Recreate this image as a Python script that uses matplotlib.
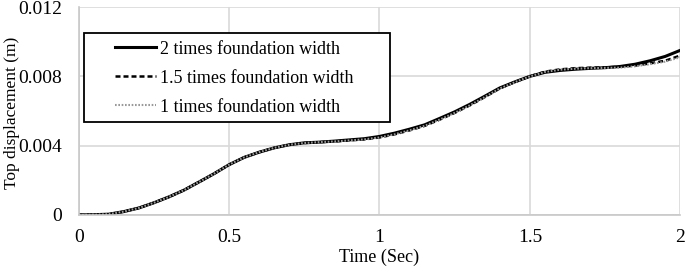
import matplotlib.pyplot as plt
from matplotlib.patches import Rectangle

time = [0.00, 0.05, 0.10, 0.15, 0.20, 0.25, 0.30, 0.35, 0.40, 0.45,
        0.50, 0.55, 0.60, 0.65, 0.70, 0.75, 0.80, 0.85, 0.90, 0.95,
        1.00, 1.05, 1.10, 1.15, 1.20, 1.25, 1.30, 1.35, 1.40, 1.45,
        1.50, 1.55, 1.60, 1.65, 1.70, 1.75, 1.80, 1.85, 1.90, 1.95, 2.00]

width_2 = [0.0, 0.00001, 0.00004, 0.00019, 0.0004, 0.0007, 0.00104, 0.00143, 0.0019, 0.00238,
           0.0029, 0.00332, 0.00362, 0.00387, 0.00405, 0.00416, 0.0042, 0.00426, 0.00433, 0.0044,
           0.00453, 0.00472, 0.00495, 0.0052, 0.00557, 0.00595, 0.00638, 0.00685, 0.00733, 0.00768,
           0.0080, 0.00823, 0.00834, 0.00841, 0.00846, 0.0085, 0.00857, 0.0087, 0.0089, 0.00915, 0.0095]

width_15 = [0.0, 0.00001, 0.00004, 0.00019, 0.0004, 0.0007, 0.00104, 0.00143, 0.0019, 0.00238,
            0.0029, 0.00332, 0.00362, 0.00387, 0.00405, 0.00415, 0.0042, 0.00424, 0.0043, 0.00436,
            0.00447, 0.00465, 0.00488, 0.00514, 0.0055, 0.00589, 0.00632, 0.0068, 0.0073, 0.00767,
            0.0080, 0.00827, 0.0084, 0.00847, 0.0085, 0.00852, 0.00855, 0.00862, 0.00875, 0.0089, 0.0092]

width_1 = [0.0, 0.00001, 0.00004, 0.00019, 0.0004, 0.0007, 0.00104, 0.00143, 0.0019, 0.00238,
           0.0029, 0.00332, 0.00362, 0.00387, 0.00405, 0.00415, 0.0042, 0.00424, 0.0043, 0.00436,
           0.00447, 0.00465, 0.00488, 0.00514, 0.0055, 0.00589, 0.00632, 0.0068, 0.0073, 0.00766,
           0.0080, 0.00825, 0.00838, 0.00844, 0.00847, 0.00849, 0.0085, 0.00858, 0.0087, 0.00885, 0.0091]

plt.rcParams['font.family'] = ['Liberation Serif', 'DejaVu Serif']

fig = plt.figure(figsize=(6.85, 2.72), dpi=100)
ax = fig.add_axes([0.115, 0.21, 0.878, 0.764])

ax.plot(time, width_2, color='black', linewidth=2.2, label='2 times foundation width')
ax.plot(time, width_15, color='black', linewidth=1.8, linestyle=(0, (2, 1.2)),
        label='1.5 times foundation width')
ax.plot(time, width_1, color='#999999', linewidth=1.5, linestyle=(0, (0.8, 0.8)),
        label='1 times foundation width')

ax.set_xlim(0, 2)
ax.set_ylim(0, 0.012)
ax.set_xticks([0, 0.5, 1, 1.5, 2])
ax.set_xticklabels(['0', '0.5', '1', '1.5', '2'])
ax.set_yticks([0, 0.004, 0.008, 0.012])
ax.set_yticklabels(['0', '0.004', '0.008', '0.012'])
ax.tick_params(axis='x', length=0, pad=10, labelsize=14)
ax.tick_params(axis='y', length=0, pad=12, labelsize=14)
ax.grid(True, color='#d9d9d9', linewidth=1.2)
ax.set_axisbelow(True)
for s in ['top', 'right']:
    ax.spines[s].set_visible(False)
for s in ['left', 'bottom']:
    ax.spines[s].set_color('#c8c8c8')
    ax.spines[s].set_linewidth(1.2)

ax.set_xlabel('Time (Sec)', fontsize=13, labelpad=2)
ax.set_ylabel('Top displacement (m)', fontsize=12.5)
ax.yaxis.set_label_coords(-0.097, 0.49)

# legend frame drawn as a box, Excel-style padding
ax.add_patch(Rectangle((0.008, 0.447), 0.51, 0.428, transform=ax.transAxes,
                       facecolor='white', edgecolor='black', linewidth=1.3, zorder=4))
leg = ax.legend(loc='upper left', bbox_to_anchor=(0.061, 0.838), frameon=False,
                fontsize=13, handlelength=2.27, handletextpad=0.17, borderpad=0,
                borderaxespad=0, labelspacing=0.66)
leg.set_zorder(5)

plt.savefig('out.png', dpi=100)
